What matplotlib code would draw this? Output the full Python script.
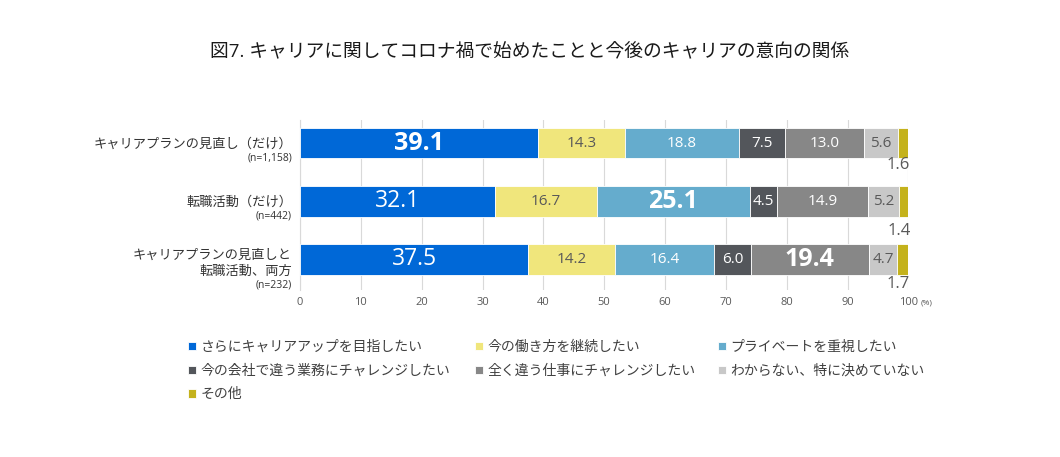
import matplotlib
matplotlib.use("Agg")
import matplotlib.pyplot as plt
import numpy as np

plt.rcParams["font.family"] = ["Open Sans", "Noto Sans CJK JP", "DejaVu Sans"]

TITLE = "図7. キャリアに関してコロナ禍で始めたことと今後のキャリアの意向の関係"

# rows (top to bottom)
groups = ["キャリアプランの見直し（だけ）", "転職活動（だけ）", "キャリアプランの見直しと\n転職活動、両方"]
group_n = ["(n=1,158)", "(n=442)", "(n=232)"]

series = ["さらにキャリアアップを目指したい", "今の働き方を継続したい", "プライベートを重視したい",
          "今の会社で違う業務にチャレンジしたい", "全く違う仕事にチャレンジしたい",
          "わからない、特に決めていない", "その他"]
values = [
    [39.1, 14.3, 18.8, 7.5, 13.0, 5.6, 1.6],
    [32.1, 16.7, 25.1, 4.5, 14.9, 5.2, 1.4],
    [37.5, 14.2, 16.4, 6.0, 19.4, 4.7, 1.7],
]
# highlighted (bold) labels: (row, series index)
bold = [(0, 0), (1, 2), (2, 4)]

colors = ["#0068D7", "#F0E67C", "#65ACCD", "#53565B", "#878787", "#C8C8C8", "#C4B21C"]
text_colors = ["white", "#595959", "white", "white", "white", "#595959", "#595959"]

fig = plt.figure(figsize=(10.6, 4.57), dpi=100)
ax = fig.add_axes([0.283, 0.365, 0.574, 0.372])

ypos = np.arange(len(groups))
vals = np.array(values)
left = np.zeros(len(groups))
other_dy = [0.37, 0.51, 0.42]  # "other" label offset below each bar
for j, name in enumerate(series):
    ax.barh(ypos, vals[:, j], left=left, height=0.52, color=colors[j],
            edgecolor="white", linewidth=0.6, label=name, zorder=3)
    for i in range(len(groups)):
        v = vals[i, j]
        if j == len(series) - 1:
            # small "other" value sits below the bar end
            ax.text(left[i] + v / 2 - 0.7, ypos[i] + other_dy[i], f"{v:.1f}", ha="center",
                    va="center", fontsize=12, color="#595959")
            continue
        isb = (i, j) in bold
        ax.text(left[i] + v / 2, ypos[i], f"{v:.1f}", ha="center", va="center",
                fontsize=18 if isb else (16.5 if j == 0 else 11),
                fontweight="bold" if isb else "normal",
                color=text_colors[j], zorder=4)
    left += vals[:, j]

ax.set_xlim(0, 100)
ax.set_ylim(2.53, -0.4)
ax.set_xticks(np.arange(0, 101, 10))
ax.set_xticklabels([str(t) for t in range(0, 101, 10)], fontsize=8, color="#595959")
ax.text(102.0, -0.075, "(%)", transform=ax.get_xaxis_transform(), fontsize=6,
        color="#595959", ha="left", va="center")
ax.tick_params(axis="x", length=0, pad=5)
ax.set_yticks([])
ax.grid(axis="x", color="#D9D9D9", linewidth=0.8, zorder=0)
for s in ["top", "right", "bottom"]:
    ax.spines[s].set_visible(False)
ax.spines["left"].set_color("#D9D9D9")

# category labels
for i, (g, n) in enumerate(zip(groups, group_n)):
    k = g.count("\n")
    n_c = (14.5 + 11.5 * k) / 58
    ax.text(-1.3, ypos[i] + n_c - 7.5 / 58, g, ha="right", va="bottom", fontsize=9.5,
            color="#333333", linespacing=1.3)
    ax.text(-1.3, ypos[i] + n_c, n, ha="right", va="center", fontsize=7.5, color="#333333")

fig.text(0.5, 0.885, TITLE, ha="center", va="center", fontsize=13.5, color="#1a1a1a")

# legend: three columns filled row-wise, placed one column at a time
handles, labels = ax.get_legend_handles_labels()
col_x = [0.172, 0.443, 0.672]
for c, x in enumerate(col_x):
    idx = list(range(c, len(series), 3))
    leg = fig.legend([handles[o] for o in idx], [labels[o] for o in idx],
                     loc="upper left", bbox_to_anchor=(x, 0.268), ncol=1, frameon=False,
                     fontsize=10, handlelength=0.55, handleheight=0.55, handletextpad=0.35,
                     labelspacing=0.62, borderaxespad=0)
    for t in leg.get_texts():
        t.set_color("#404040")

fig.savefig("out.png", dpi=100)
